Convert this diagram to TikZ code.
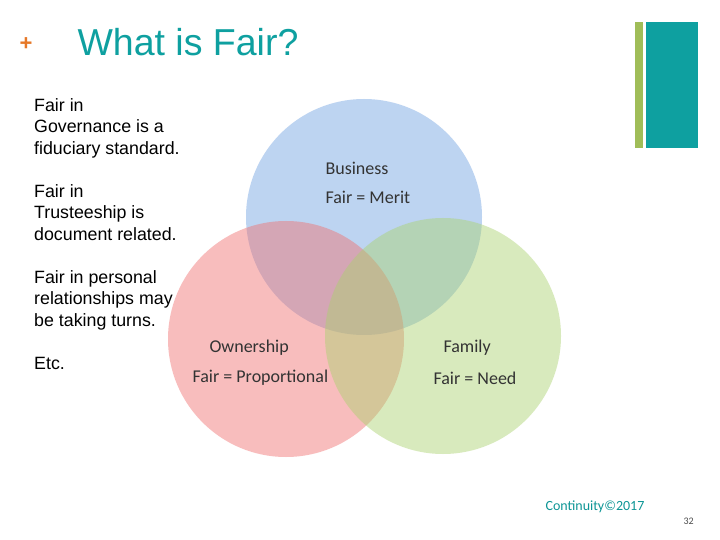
\documentclass[tikz,border=0pt]{standalone}
\usepackage{fontspec}
\setmainfont{Liberation Sans}
\newfontfamily\carlitofont{Carlito}
\begin{document}
\begin{tikzpicture}[x=1pt,y=-1pt,
  lbl/.style={font=\carlitofont\fontsize{18}{20}\selectfont,text=black!80},
  side/.style={anchor=north west,align=left,font=\fontsize{17.8}{21.6}\selectfont,inner sep=0pt}]
\useasboundingbox (0,0) rectangle (720,540);
\fill[fill=white] (0,0) rectangle (720,540);
\fill[fill={rgb,255:red,160;green,189;blue,88}] (635,22) rectangle (643,148);
\fill[fill={rgb,255:red,14;green,160;blue,160}] (646,22) rectangle (698,148);
\node[text={rgb,255:red,230;green,120;blue,40},font=\fontsize{22}{24}\selectfont\bfseries] (plus) at (26,44) {+};
\node[anchor=west,text={rgb,255:red,14;green,160;blue,160},font=\fontsize{37.5}{40}\selectfont] (title) at (74,42) {What is Fair?};
\fill[fill={rgb,255:red,110;green,160;blue,225},opacity=0.45] (364,217) circle (118);
\fill[fill={rgb,255:red,240;green,110;blue,110},opacity=0.45] (286,339) circle (118);
\fill[fill={rgb,255:red,170;green,210;blue,110},opacity=0.45] (443,336) circle (118);
\node[side] (t1) at (34,98) {Fair in\\Governance is a\\fiduciary standard.};
\node[side] (t2) at (34,184) {Fair in\\Trusteeship is\\document related.};
\node[side] (t3) at (34,270) {Fair in personal\\relationships may\\be taking turns.};
\node[side] (t4) at (34,357) {Etc.};
\node[lbl,anchor=west] (b1) at (322,168) {Business};
\node[lbl,anchor=west] (b2) at (322,197) {Fair = Merit};
\node[lbl,anchor=west] (o1) at (206,348) {Ownership};
\node[lbl,anchor=west] (o2) at (189,378) {Fair = Proportional};
\node[lbl,anchor=west] (f1) at (440,348) {Family};
\node[lbl,anchor=west] (f2) at (430,378) {Fair = Need};
\node[anchor=west,text={rgb,255:red,14;green,150;blue,150},font=\carlitofont\fontsize{14}{16}\selectfont] (c) at (542,507) {Continuity\textcopyright2017};
\node[anchor=west,text=black!70,font=\carlitofont\fontsize{10}{12}\selectfont] (n) at (680,521) {32};
\end{tikzpicture}
\end{document}
